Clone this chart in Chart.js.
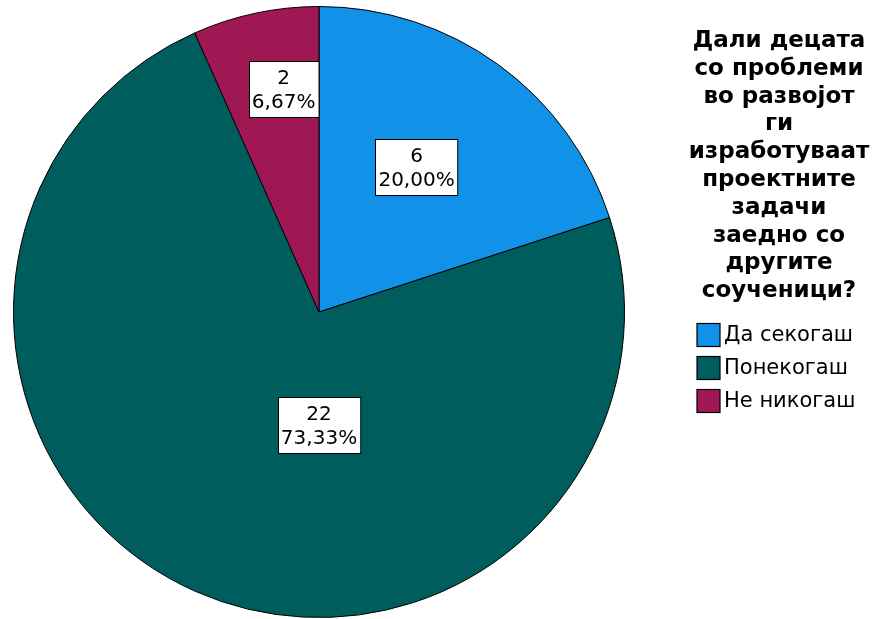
<!DOCTYPE html>
<html>
<head>
<meta charset="utf-8">
<script src="https://cdn.jsdelivr.net/npm/chart.js@4/dist/chart.umd.min.js"></script>
<style>
  html, body { margin: 0; padding: 0; background: #ffffff; }
  #wrap { width: 879px; height: 619px; }
</style>
</head>
<body>
<div id="wrap"><canvas id="pie" width="879" height="619"></canvas></div>
<script>
// Responses to the survey question
const categories = ['Да секогаш', 'Понекогаш', 'Не никогаш'];
const counts = [6, 22, 2];
const sliceColors = ['#1192e8', '#005d5d', '#9f1853'];
const titleLines = [
  'Дали децата', 'со проблеми', 'во развојот', 'ги', 'изработуваат',
  'проектните', 'задачи', 'заедно со', 'другите', 'соученици?'
];

const total = counts.reduce((a, b) => a + b, 0);
const percentText = counts.map(v => (v / total * 100).toFixed(2).replace('.', ',') + '%');

// Boxed "count / percent" labels placed inside each slice
const sliceLabels = {
  id: 'sliceLabels',
  afterDatasetsDraw(chart, args, opts) {
    const ctx = chart.ctx;
    const meta = chart.getDatasetMeta(0);
    ctx.save();
    ctx.font = opts.font;
    ctx.textAlign = 'center';
    ctx.textBaseline = 'middle';
    meta.data.forEach((arc, i) => {
      const place = opts.placement[i];
      const ang = (place.angle - 90) * Math.PI / 180;
      const r = arc.outerRadius * place.radius;
      const cx = arc.x + Math.cos(ang) * r;
      const cy = arc.y + Math.sin(ang) * r;
      const lines = [String(counts[i]), percentText[i]];
      const w = Math.max(...lines.map(t => ctx.measureText(t).width)) + opts.padX * 2;
      const h = lines.length * opts.lineHeight + opts.padY * 2;
      const x0 = Math.round(cx - w / 2) + 0.5, y0 = Math.round(cy - h / 2) + 0.5;
      ctx.fillStyle = '#ffffff';
      ctx.fillRect(x0, y0, w, h);
      ctx.strokeStyle = '#000000';
      ctx.lineWidth = 1;
      ctx.strokeRect(x0, y0, w, h);
      ctx.fillStyle = '#000000';
      lines.forEach((t, k) => {
        ctx.fillText(t, cx, y0 + opts.padY + opts.lineHeight * (k + 0.5) + 1);
      });
    });
    ctx.restore();
  }
};

// Title and legend on the right side
const sideLegend = {
  id: 'sideLegend',
  afterDraw(chart, args, opts) {
    const ctx = chart.ctx;
    ctx.save();
    ctx.fillStyle = '#000000';
    ctx.textAlign = 'center';
    ctx.textBaseline = 'middle';
    ctx.font = opts.titleFont;
    titleLines.forEach((t, i) => {
      ctx.fillText(t, opts.titleX, opts.titleY + i * opts.titleLineHeight);
    });
    ctx.font = opts.itemFont;
    ctx.textAlign = 'left';
    categories.forEach((c, i) => {
      const y = opts.itemY + i * opts.itemSpacing;
      ctx.fillStyle = sliceColors[i];
      ctx.fillRect(opts.boxX, y - opts.boxSize / 2, opts.boxSize, opts.boxSize);
      ctx.strokeStyle = '#000000';
      ctx.lineWidth = 1.2;
      ctx.strokeRect(opts.boxX, y - opts.boxSize / 2, opts.boxSize, opts.boxSize);
      ctx.fillStyle = '#000000';
      ctx.fillText(c, opts.boxX + opts.boxSize + 4, y + 1);
    });
    ctx.restore();
  }
};

new Chart(document.getElementById('pie'), {
  type: 'pie',
  data: {
    labels: categories,
    datasets: [{
      data: counts,
      backgroundColor: sliceColors,
      borderColor: '#000000',
      borderWidth: 1
    }]
  },
  options: {
    responsive: false,
    animation: false,
    layout: { padding: { left: 13, top: 6, right: 254, bottom: 1 } },
    plugins: {
      legend: { display: false },
      tooltip: { enabled: false },
      sliceLabels: {
        font: '20px "DejaVu Sans"',
        lineHeight: 24,
        padX: 3,
        padY: 4,
        placement: [
          { angle: 34, radius: 0.571 },
          { angle: 180, radius: 0.37 },
          { angle: -9, radius: 0.74 }
        ]
      },
      sideLegend: {
        titleFont: 'bold 23px "DejaVu Sans"',
        titleX: 779,
        titleY: 41,
        titleLineHeight: 27.8,
        itemFont: '21px "DejaVu Sans"',
        boxX: 697,
        boxSize: 23,
        itemY: 335,
        itemSpacing: 33
      }
    }
  },
  plugins: [sliceLabels, sideLegend]
});
</script>
</body>
</html>
